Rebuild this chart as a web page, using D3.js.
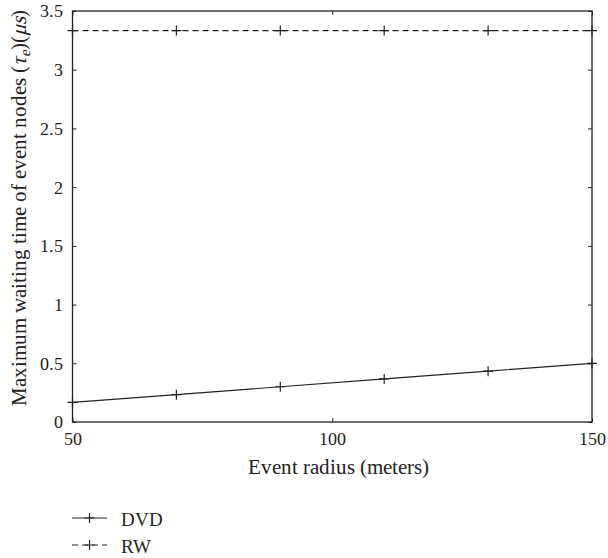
<!DOCTYPE html>
<html><head><meta charset="utf-8">
<script src="https://cdn.jsdelivr.net/npm/d3@7"></script>
<style>
@font-face{font-family:"ChartSerif";src:local("Liberation Serif"),local("LiberationSerif"),local("LiberationSerif-Regular"),local("Times New Roman");}
body{margin:0;background:#fff}svg{display:block}
svg text, svg tspan{font-family:"ChartSerif","Liberation Serif","Times New Roman",serif !important;}
</style>
</head><body><svg id="c" width="608" height="558" style="font-family:'Liberation Serif',serif"></svg>
<script>
const radii = [50, 70, 90, 110, 130, 150];
const dvd = [0.167, 0.233, 0.300, 0.367, 0.433, 0.500];
const rw = [3.333, 3.333, 3.333, 3.333, 3.333, 3.333];
const xTicks = [50, 100, 150];
const yTicks = [0, 0.5, 1, 1.5, 2, 2.5, 3, 3.5];
const seriesNames = ["DVD", "RW"];

(function () {
const FF = "'Liberation Serif', 'Times New Roman', serif";
const svg = d3.select("#c");
const L = 72.5, R = 592, T = 11, B = 422;
const x = d3.scaleLinear().domain([50, 150]).range([L, R]);
const y = d3.scaleLinear().domain([0, 3.5]).range([B, T]);
const col = "#222";
const fsTick = 18, fsLab = 19;

svg.append("rect").attr("x", L).attr("y", T).attr("width", R - L).attr("height", B - T)
  .attr("fill", "none").attr("stroke", col).attr("stroke-width", 1.3);

const tl = 4;
const gB = svg.append("g").attr("transform", `translate(0,${B})`)
  .call(d3.axisBottom(x).tickValues(xTicks).tickSizeInner(-tl).tickSizeOuter(0).tickPadding(11).tickFormat(d3.format("d")));
const gT = svg.append("g").attr("transform", `translate(0,${T})`)
  .call(d3.axisTop(x).tickValues(xTicks).tickSizeInner(-tl).tickSizeOuter(0).tickFormat(""));
const gL = svg.append("g").attr("transform", `translate(${L},0)`)
  .call(d3.axisLeft(y).tickValues(yTicks).tickSizeInner(-tl).tickSizeOuter(0).tickPadding(10).tickFormat(d => d3.format("")(d)));
const gR = svg.append("g").attr("transform", `translate(${R},0)`)
  .call(d3.axisRight(y).tickValues(yTicks).tickSizeInner(-tl).tickSizeOuter(0).tickFormat(""));
[gB, gT, gL, gR].forEach(g => {
  g.attr("font-family", null).attr("font-size", fsTick);
  g.select(".domain").remove();
  g.selectAll("line").attr("stroke", col).attr("stroke-width", 1);
  g.selectAll("text").attr("font-family", FF).attr("font-size", fsTick).attr("fill", col);
});
gB.selectAll("text").attr("dy", "0.66em");
gL.selectAll("text").attr("dy", "0.33em");

const line = d3.line().x((d, i) => x(radii[i])).y(d => y(d));
const series = [
  {name: seriesNames[0], vals: dvd, dash: null},
  {name: seriesNames[1], vals: rw, dash: "6,4"}
];
const ms = 5;
function plus(g, cx, cy) {
  g.append("path").attr("d", `M${cx - ms},${cy}H${cx + ms}M${cx},${cy - ms}V${cy + ms}`)
    .attr("stroke", col).attr("stroke-width", 1.2).attr("fill", "none");
}
series.forEach(s => {
  svg.append("path").attr("d", line(s.vals)).attr("fill", "none").attr("stroke", col)
    .attr("stroke-width", 1.2).attr("stroke-dasharray", s.dash);
  const g = svg.append("g");
  s.vals.forEach((v, i) => plus(g, x(radii[i]), y(v)));
});

function txt(sel) { return sel.attr("font-family", FF).attr("fill", col); }

const xl = txt(svg.append("text")).attr("x", 338).attr("y", 474).attr("text-anchor", "middle")
  .attr("font-size", fsLab).text("Event radius (meters)");
const xlLen = xl.node().getComputedTextLength();
if (xlLen > 0) xl.attr("font-size", Math.min(22, fsLab * 183 / xlLen));

const yl = txt(svg.append("text")).attr("transform", `translate(26,208) rotate(-90)`)
  .attr("text-anchor", "middle").attr("font-size", fsLab);
yl.append("tspan").text("Maximum waiting time of event nodes (");
yl.append("tspan").attr("font-style", "italic").text("τ");
const sub = yl.append("tspan").attr("font-style", "italic").attr("font-size", 13).attr("dy", 4).text("e");
yl.append("tspan").attr("dy", -4).text(")(");
yl.append("tspan").attr("font-style", "italic").text("μ");
yl.append("tspan").attr("font-style", "italic").text("s");
yl.append("tspan").text(")");
const ylLen = yl.node().getComputedTextLength();
if (ylLen > 0) {
  const f = Math.min(22, fsLab * 400 / ylLen);
  yl.attr("font-size", f);
  sub.attr("font-size", f * 0.7);
}

const legY = [518, 545];
series.forEach((s, i) => {
  svg.append("path").attr("d", `M72,${legY[i]}H107`).attr("stroke", col).attr("stroke-width", 1.2)
    .attr("stroke-dasharray", s.dash);
  const g = svg.append("g");
  plus(g, 89.5, legY[i]);
  txt(svg.append("text")).attr("x", 121).attr("y", legY[i] + 8).attr("font-size", fsLab).text(s.name);
});
})();
</script></body></html>
